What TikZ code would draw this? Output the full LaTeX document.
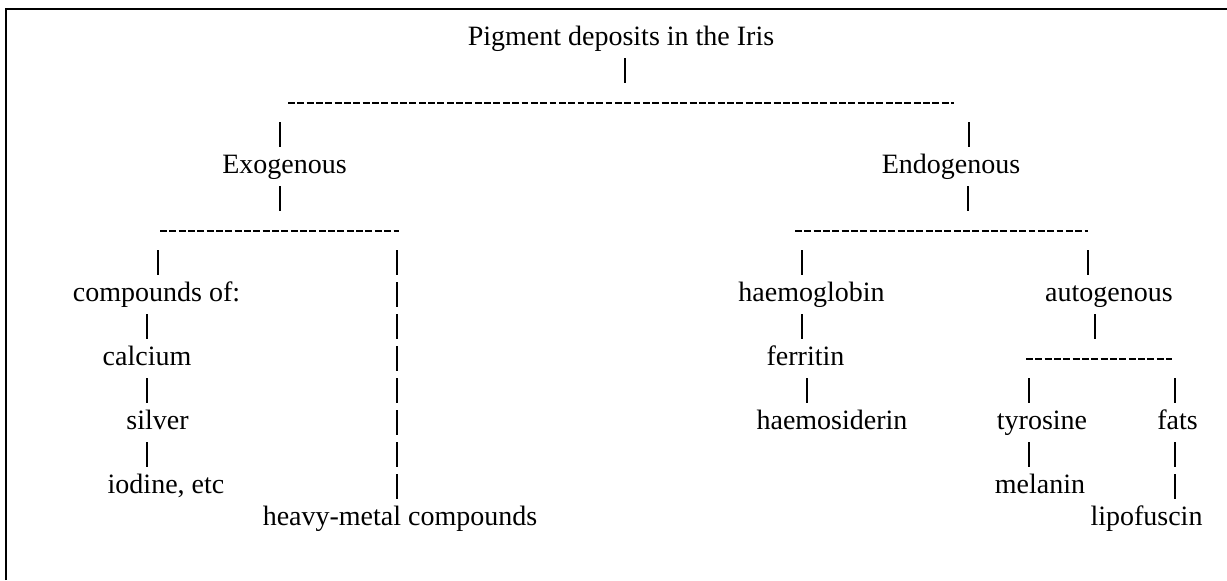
\documentclass[tikz,border=0pt]{standalone}
\usepackage{fontspec}
\setmainfont{Liberation Serif}
\begin{document}
\begin{tikzpicture}
  [x=.5pt,y=-.5pt,font=\fontsize{14}{16}\selectfont,
   every node/.style={anchor=base,inner sep=0pt,text height=10.5pt,text depth=3.5pt},
   bar/.style={line width=.6pt,dash pattern=on 12.5pt off 3.5pt,shorten <=3pt,shorten >=2.5pt},
   hyph/.style={line width=1.1pt,dash pattern=on 3.45pt off 1.22pt}]
  \useasboundingbox (0,0) rectangle (1227,580);
  \draw[line width=1pt] (6,580) -- (6,9) -- (1227,9);

  \node (title) at (621,45)    {Pigment deposits in the Iris};
  \node (exo)   at (284.5,173) {Exogenous};
  \node (endo)  at (951,173)   {Endogenous};
  \node (comp)  at (156.5,301) {compounds of:};
  \node (calc)  at (147,365)   {calcium};
  \node (silv)  at (157.5,429) {silver};
  \node (iod)   at (166,493)   {iodine, etc};
  \node (heavy) at (400,525)   {heavy-metal compounds};
  \node (haem)  at (811.5,301) {haemoglobin};
  \node (ferr)  at (805.5,365) {ferritin};
  \node (hsid)  at (832,429)   {haemosiderin};
  \node (auto)  at (1109,301)  {autogenous};
  \node (tyro)  at (1042,429)  {tyrosine};
  \node (fats)  at (1177.5,429) {fats};
  \node (mela)  at (1040,493)  {melanin};
  \node (lipo)  at (1146.5,525) {lipofuscin};

  \coordinate (r0w) at (288,103);  \coordinate (r0e) at (954,103);
  \coordinate (r0up) at (625,103); \coordinate (r0l) at (280,103); \coordinate (r0r) at (969,103);
  \coordinate (r1w) at (160,231);  \coordinate (r1e) at (399,231);
  \coordinate (r1up) at (280,231); \coordinate (r1l) at (158,231); \coordinate (r1r) at (397,231);
  \coordinate (r2w) at (795,231);  \coordinate (r2e) at (1088,231);
  \coordinate (r2up) at (968,231); \coordinate (r2l) at (802,231); \coordinate (r2r) at (1088,231);
  \coordinate (r3w) at (1026,359); \coordinate (r3e) at (1172,359);
  \coordinate (r3up) at (1095,359); \coordinate (r3l) at (1029,359); \coordinate (r3r) at (1175,359);

  \foreach \from/\to in {r0w/r0e,r1w/r1e,r2w/r2e,r3w/r3e}
    \draw[hyph] (\from) -- (\to);

  \draw[bar,shorten >=10pt] (title.south -| r0up) -- (r0up);
  \draw[bar,shorten >=10pt] (exo.south -| r1up) -- (r1up);
  \draw[bar,shorten >=10pt] (endo.south -| r2up) -- (r2up);
  \draw[bar,shorten >=10pt] (auto.south -| r3up) -- (r3up);

  \foreach \from/\to in {r0l/exo,r0r/endo,r1l/comp,r1r/heavy,r2l/haem,r2r/auto,r3l/tyro,r3r/fats}
    \draw[bar,shorten <=9.5pt] (\from) -- (\to.north -| \from);

  \draw[bar] (comp.south -| calc) -- (calc.north);
  \draw[bar] (calc.south) -- (silv.north -| calc);
  \draw[bar] (silv.south -| calc) -- (iod.north -| calc);
  \draw[bar] (haem.south -| r2l) -- (ferr.north -| r2l);
  \draw[bar] ([xshift=.75pt]ferr.south) -- ([xshift=.75pt]ferr.south |- hsid.north);
  \draw[bar] (tyro.south -| r3l) -- (mela.north -| r3l);
  \draw[bar] (fats.south -| r3r) -- (lipo.north -| r3r);

\end{tikzpicture}
\end{document}
